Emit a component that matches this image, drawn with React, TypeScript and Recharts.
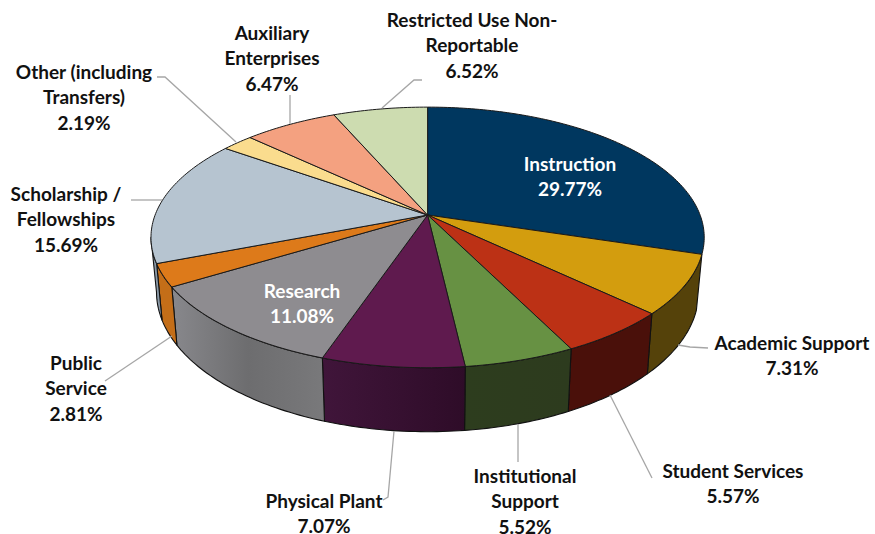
import React from 'react';
import { PieChart, Pie, Cell } from 'recharts';

const categories = ['Instruction', 'Academic Support', 'Student Services', 'Institutional Support', 'Physical Plant', 'Research', 'Public Service', 'Scholarship / Fellowships', 'Other (including Transfers)', 'Auxiliary Enterprises', 'Restricted Use Non-Reportable'];
const shares = [29.77, 7.31, 5.57, 5.52, 7.07, 11.08, 2.81, 15.69, 2.19, 6.47, 6.52];
const labelLines = [
  ['Instruction', '29.77%'],
  ['Academic Support', '7.31%'],
  ['Student Services', '5.57%'],
  ['Institutional', 'Support', '5.52%'],
  ['Physical Plant', '7.07%'],
  ['Research', '11.08%'],
  ['Public', 'Service', '2.81%'],
  ['Scholarship /', 'Fellowships', '15.69%'],
  ['Other (including', 'Transfers)', '2.19%'],
  ['Auxiliary', 'Enterprises', '6.47%'],
  ['Restricted Use Non-', 'Reportable', '6.52%'],
];

const topColors = ['#00375f', '#d39d0e', '#bc3115', '#679143', '#5f1a4e', '#8e8c90', '#dd7a1a', '#b6c4d0', '#fadc8e', '#f4a180', '#cddcb0'];
const sideStops: string[][] = [
  ['#00375f', '#00375f'],
  ['#55420a', '#55420a'],
  ['#4a100a', '#4a100a'],
  ['#2d3d1e', '#2d3b1e'],
  ['#40153a', '#2e0c28'],
  ['#88888c', '#6d6d6f', '#79797b'],
  ['#c46e18', '#c46e18'],
  ['#8b9aa8', '#8b9aa8'],
  ['#fadc8e', '#fadc8e'],
  ['#f4a180', '#f4a180'],
  ['#cddcb0', '#cddcb0'],
];

// label layout: centre x, first-line centre y
const labelPos = [
  { x: 570, y: 163, c: '#fff' },
  { x: 792, y: 342, c: '#111' },
  { x: 733, y: 470, c: '#111' },
  { x: 525, y: 475, c: '#111' },
  { x: 324, y: 500, c: '#111' },
  { x: 302, y: 290, c: '#fff' },
  { x: 76, y: 362, c: '#111' },
  { x: 66, y: 193, c: '#111' },
  { x: 84, y: 71, c: '#111' },
  { x: 272, y: 32, c: '#111' },
  { x: 472, y: 19, c: '#111' },
];
const leaders: (string | null)[] = [
  null,
  '678,345 690,347 708,348',
  '610,395 652,478',
  '518,424 518,462',
  '394,431 388,497 383,500',
  null,
  '172,336 105,381',
  '131,200 162,200',
  '157,77 165,77 236,142',
  '290,124 290,95',
  '382,108 414,80 422,80',
];

const rows = categories.map((name, i) => ({ name, value: shares[i] }));

const K = 0.172; // perspective strength
const SQUASH = 0.464; // vertical/horizontal ratio
const DEPTH = 53;
const BOTTOM_SCALE = 0.98;

function project(cx: number, cy: number, r: number, deg: number, depth = 0) {
  const t = (deg * Math.PI) / 180;
  const u = Math.cos(t);
  const v = Math.sin(t);
  const w = 1 + K * v;
  const sx = depth ? BOTTOM_SCALE : 1;
  return { x: cx + (sx * r * u) / w, y: cy - (r * SQUASH * v) / w + depth / w };
}

function arcPts(cx: number, cy: number, r: number, from: number, to: number, depth = 0) {
  const n = Math.max(2, Math.ceil(Math.abs(from - to)));
  const pts: string[] = [];
  for (let i = 0; i <= n; i++) {
    const p = project(cx, cy, r, from + ((to - from) * i) / n, depth);
    pts.push(`${p.x.toFixed(2)} ${p.y.toFixed(2)}`);
  }
  return pts;
}

const norm = (d: number) => ((d % 360) + 360) % 360;

function Slice(props: any) {
  const { cx, cy, outerRadius: r, startAngle, endAngle, index, fill } = props;
  const idx = index ?? 0;
  // visible rim runs from the left extreme (190deg) to the right extreme (350deg)
  const hi = norm(startAngle) === 0 ? 360 : norm(startAngle);
  const lo = hi - (startAngle - endAngle);
  const visFrom = Math.min(hi, 350);
  const visTo = Math.max(lo, 190);
  const hasSide = visFrom > visTo;
  const gid = `side-${idx}`;
  const stops = sideStops[idx];
  let side = '';
  let grad: any = null;
  if (hasSide) {
    const top = arcPts(cx, cy, r, visFrom, visTo);
    const bot = arcPts(cx, cy, r, visTo, visFrom, DEPTH);
    side = `M${top.join('L')}L${bot.join('L')}Z`;
    grad = (
      <linearGradient id={gid} x1="0" y1="0" x2="1" y2="0">
        {stops.map((s, i) => (
          <stop key={i} offset={i / (stops.length - 1)} stopColor={s} />
        ))}
      </linearGradient>
    );
  }
  const face = `M${cx} ${cy}L${arcPts(cx, cy, r, startAngle, endAngle).join('L')}Z`;
  return (
    <g>
      {grad && <defs>{grad}</defs>}
      {hasSide && <path d={side} fill={`url(#${gid})`} stroke="#111" strokeWidth={1.1} strokeLinejoin="round" />}
      <path d={face} fill={fill} stroke="#1a1a1a" strokeWidth={1} strokeLinejoin="round" />
    </g>
  );
}

function SliceLabel(props: any) {
  const i = props.index;
  const pos = labelPos[i];
  const line = leaders[i];
  return (
    <g>
      {line && <polyline points={line} fill="none" stroke="#a6a6a6" strokeWidth={1.3} />}
      <text textAnchor="middle" fontFamily="Lato, sans-serif" fontWeight={700} fontSize={19} fill={pos.c}>
        {labelLines[i].map((t, k) => (
          <tspan key={k} x={pos.x} y={pos.y + k * 25.6} dominantBaseline="central">{t}</tspan>
        ))}
      </text>
    </g>
  );
}

export default function App() {
  return (
    <div style={{ position: 'absolute', left: 0, top: 0, width: 875, height: 534, background: '#fff' }}>
      <PieChart width={875} height={534} margin={{ top: 0, right: 0, bottom: 0, left: 0 }}>
        <Pie
          data={rows}
          dataKey="value"
          nameKey="name"
          cx={427.6}
          cy={215}
          innerRadius={0}
          outerRadius={272.5}
          startAngle={90}
          endAngle={-270}
          paddingAngle={0}
          isAnimationActive={false}
          shape={Slice}
          label={SliceLabel}
          labelLine={false}
        >
          {rows.map((r, i) => (
            <Cell key={r.name} fill={topColors[i]} />
          ))}
        </Pie>
      </PieChart>
    </div>
  );
}
